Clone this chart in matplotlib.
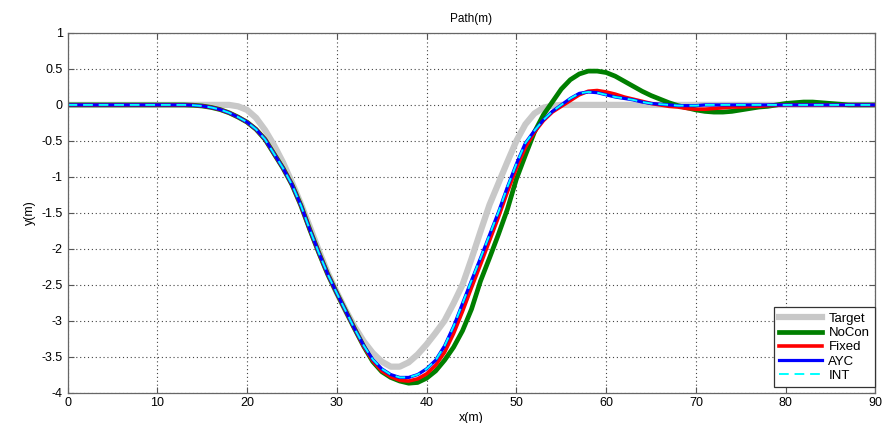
import numpy as np
import matplotlib
matplotlib.use('Agg')
import matplotlib.pyplot as plt

plt.rcParams['font.family'] = ['Liberation Sans', 'DejaVu Sans']

# path samples every 1 m, x = 0..90
x = np.arange(0, 91)

target = [0]*19 + [
    -0.02, -0.07, -0.18, -0.35, -0.56, -0.80, -1.08, -1.38, -1.70, -2.03,   # 19-28
    -2.34, -2.61, -2.86, -3.09, -3.29, -3.45, -3.57, -3.64, -3.64, -3.58,  # 29-38
    -3.47, -3.33, -3.17, -3.00, -2.76, -2.50, -2.14, -1.76, -1.39, -1.09,  # 39-48
    -0.79, -0.50, -0.27, -0.12, -0.04, -0.01,                              # 49-54
] + [0]*36

nocon = [0]*14 + [
    -0.005, -0.015, -0.035, -0.065, -0.11, -0.17, -0.24, -0.34, -0.48, -0.68,  # 14-23
    -0.88, -1.11, -1.40, -1.74, -2.06, -2.36, -2.62, -2.87, -3.12, -3.36,      # 24-33
    -3.57, -3.71, -3.79, -3.84, -3.87, -3.86, -3.80, -3.70, -3.55, -3.37,      # 34-43
    -3.14, -2.84, -2.45, -2.13, -1.80, -1.45, -1.03, -0.70, -0.38, -0.14,      # 44-53
    0.04, 0.22, 0.35, 0.43, 0.47, 0.47, 0.45, 0.40, 0.33, 0.26,               # 54-63
    0.19, 0.13, 0.08, 0.03, -0.01, -0.04, -0.07, -0.09, -0.10, -0.10,         # 64-73
    -0.09, -0.07, -0.05, -0.03, -0.02, 0.0, 0.02, 0.03, 0.04, 0.04,           # 74-83
    0.03, 0.02, 0.01,                                                         # 84-86
] + [0]*4

fixed = [0]*14 + [
    -0.005, -0.015, -0.035, -0.065, -0.11, -0.17, -0.24, -0.34, -0.48, -0.68,  # 14-23
    -0.88, -1.11, -1.40, -1.74, -2.06, -2.36, -2.62, -2.87, -3.12, -3.36,      # 24-33
    -3.56, -3.70, -3.78, -3.83, -3.84, -3.81, -3.74, -3.62, -3.44, -3.18,      # 34-43
    -2.87, -2.54, -2.22, -1.89, -1.56, -1.21, -0.88, -0.59, -0.38, -0.22,      # 44-53
    -0.10, -0.02, 0.06, 0.14, 0.19, 0.20, 0.18, 0.15, 0.11, 0.08,             # 54-63
    0.05, 0.02, 0.0, -0.02, -0.03, -0.05, -0.06, -0.06, -0.05, -0.04,         # 64-73
    -0.03, -0.03, -0.02, -0.02, -0.01, -0.005,                                # 74-79
] + [0]*11

ayc = [0]*14 + [
    -0.005, -0.015, -0.035, -0.065, -0.11, -0.17, -0.24, -0.34, -0.48, -0.68,  # 14-23
    -0.88, -1.11, -1.40, -1.74, -2.06, -2.36, -2.62, -2.87, -3.12, -3.35,      # 24-33
    -3.54, -3.67, -3.75, -3.79, -3.79, -3.75, -3.67, -3.55, -3.35, -3.08,      # 34-43
    -2.76, -2.44, -2.13, -1.81, -1.49, -1.14, -0.82, -0.53, -0.36, -0.21,      # 44-53
    -0.09, 0.0, 0.09, 0.16, 0.18, 0.17, 0.14, 0.11, 0.09, 0.07,               # 54-63
    0.04, 0.02, 0.01, 0.0, -0.01, -0.01, -0.01,                               # 64-70
] + [0]*20

intc = list(ayc)  # INT lies on top of AYC

series = [
    ('Target', target, dict(color='#c8c8c8', lw=4.5)),
    ('NoCon', nocon, dict(color='#007f00', lw=3.4)),
    ('Fixed', fixed, dict(color='#ff0000', lw=2.6)),
    ('AYC', ayc, dict(color='#0000ff', lw=2.3)),
    ('INT', intc, dict(color='#00ffff', lw=1.4, dashes=(5, 3))),
]

fig = plt.figure(figsize=(8.83, 4.23), dpi=100)
ax = fig.add_axes([0.0765, 0.072, 0.915, 0.85])

for name, y, style in series:
    ax.plot(x, y, label=name, solid_joinstyle='round', dash_joinstyle='round', **style)

ax.set_xlim(0, 90)
ax.set_ylim(-4, 1)
ax.set_xticks(np.arange(0, 91, 10))
ax.set_yticks(np.arange(-4, 1.01, 0.5))
ax.set_yticklabels(['-4', '-3.5', '-3', '-2.5', '-2', '-1.5', '-1', '-0.5', '0', '0.5', '1'])
ax.grid(True, color='#444444', linestyle=(0, (1, 2.5)), lw=0.8)
ax.tick_params(direction='in', top=True, right=True, labelsize=9, length=4, color='#555555')
for s in ax.spines.values():
    s.set_color('#666666')
    s.set_linewidth(0.9)

ax.set_title('Path(m)', fontsize=8.5, pad=8)
ax.set_xlabel('x(m)', fontsize=9, labelpad=2)
ax.set_ylabel('y(m)', fontsize=9, labelpad=4)

leg = ax.legend(loc='lower right', bbox_to_anchor=(0.999, 0.015), borderaxespad=0,
                fontsize=9.5, handlelength=3.3, labelspacing=0.15, fancybox=False,
                framealpha=1, edgecolor='#333333', handletextpad=0.45, borderpad=0.4)
leg.get_frame().set_linewidth(0.9)

fig.savefig('out.png', dpi=100)
